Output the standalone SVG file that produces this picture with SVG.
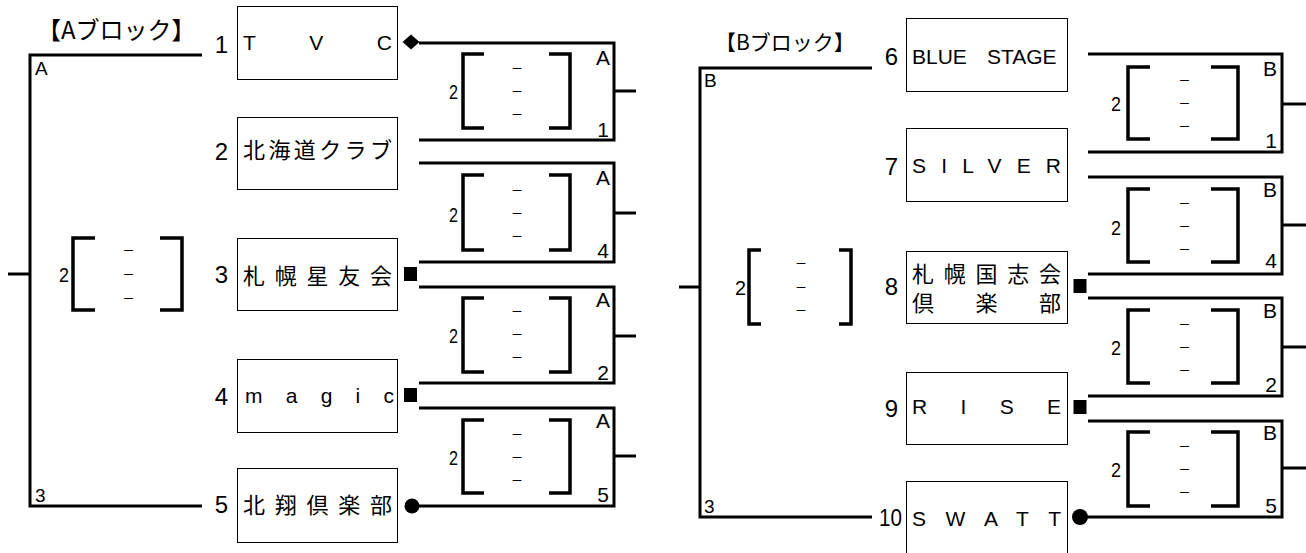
<svg xmlns="http://www.w3.org/2000/svg" width="1306" height="553" viewBox="0 0 1306 553">
<style>
.ln{fill:none;stroke:#000;stroke-width:3;stroke-linejoin:miter}
.br{fill:none;stroke:#000;stroke-width:3.5}
.box{fill:#fff;stroke:#000;stroke-width:1}
.num{font-family:"Liberation Sans",sans-serif;font-size:24px;text-anchor:end;fill:#000}
.jp{font-family:"Noto Sans CJK JP",sans-serif;font-size:22px;dominant-baseline:central;fill:#000}
.en{font-family:"Liberation Sans","Noto Sans CJK JP",sans-serif;font-size:21px;dominant-baseline:central;fill:#000}
.ttl{font-family:"Noto Sans CJK JP",sans-serif;dominant-baseline:central;fill:#000}
.ml{font-family:"Liberation Sans",sans-serif;font-size:21px;text-anchor:end;fill:#000}
.cl{font-family:"Liberation Sans",sans-serif;font-size:19px;fill:#000}
.sc{font-family:"Liberation Sans",sans-serif;font-size:21px;text-anchor:end;dominant-baseline:central;fill:#000}
.ds{font-family:"Noto Sans CJK JP",sans-serif;font-size:14px;text-anchor:middle;dominant-baseline:central;fill:#000}
.mk{fill:#000}
</style>
<defs>
<rect id="sq" x="-6.5" y="-7" width="13" height="14"/>
<path id="dm" d="M0,-7.5 L8.5,0 L0,7.5 L-8.5,0 Z"/>
</defs>

<g id="titles">
<text class="ttl" x="37" y="28.5" font-size="24">【Aブロック】</text>
<text class="ttl" x="715" y="41" font-size="21">【Bブロック】</text>
</g>

<g id="connectors">
<!-- Block A outer -->
<path class="ln" d="M202,55 H30 V506 H202"/>
<path class="ln" d="M8,274 H30"/>
<!-- A matches -->
<path class="ln" d="M419,43 H614 V140 H419"/><path class="ln" d="M614,91 H636"/>
<path class="ln" d="M419,163 H614 V262 H419"/><path class="ln" d="M614,213 H636"/>
<path class="ln" d="M419,287 H614 V383 H419"/><path class="ln" d="M614,336 H636"/>
<path class="ln" d="M419,408 H614 V506 H412"/><path class="ln" d="M614,456 H636"/>
<!-- Block B outer -->
<path class="ln" d="M872,68 H700 V517 H872"/>
<path class="ln" d="M679,287 H700"/>
<!-- B matches -->
<path class="ln" d="M1088,54 H1282 V152 H1088"/><path class="ln" d="M1282,104 H1306"/>
<path class="ln" d="M1088,177 H1282 V274 H1088"/><path class="ln" d="M1282,225 H1306"/>
<path class="ln" d="M1088,298 H1282 V396 H1088"/><path class="ln" d="M1282,347 H1306"/>
<path class="ln" d="M1088,421 H1282 V517 H1080"/><path class="ln" d="M1282,468 H1306"/>
<!-- end marks -->
<use href="#dm" class="mk" x="411" y="42"/>
<use href="#sq" class="mk" x="410.5" y="274"/>
<use href="#sq" class="mk" x="410.5" y="395"/>
<circle class="mk" cx="412" cy="506" r="7.5"/>
<use href="#sq" class="mk" x="1080" y="286"/>
<use href="#sq" class="mk" x="1080" y="407"/>
<circle class="mk" cx="1080" cy="517" r="8"/>
</g>

<!-- outer block labels -->
<g id="block-A-final">
<text class="cl" x="35" y="75">A</text>
<text class="cl" x="35" y="502">3</text>
<text class="sc" x="69" y="274" textLength="10" lengthAdjust="spacingAndGlyphs">2</text>
<path class="br" d="M95,238 H73 V310 H95 M160,238 H182 V310 H160"/>
<text class="ds" x="128.5" y="249" textLength="12" lengthAdjust="spacingAndGlyphs">－</text><text class="ds" x="128.5" y="273" textLength="12" lengthAdjust="spacingAndGlyphs">－</text><text class="ds" x="128.5" y="297" textLength="12" lengthAdjust="spacingAndGlyphs">－</text>
</g>
<g id="block-B-final">
<text class="cl" x="704" y="87">B</text>
<text class="cl" x="704" y="513">3</text>
<text class="sc" x="746" y="287" textLength="11" lengthAdjust="spacingAndGlyphs">2</text>
<path class="br" d="M761,250 H749 V324 H761 M839,250 H851 V324 H839"/>
<text class="ds" x="801" y="262" textLength="12" lengthAdjust="spacingAndGlyphs">－</text><text class="ds" x="801" y="286" textLength="12" lengthAdjust="spacingAndGlyphs">－</text><text class="ds" x="801" y="309" textLength="12" lengthAdjust="spacingAndGlyphs">－</text>
</g>

<!-- A teams -->
<g id="team-1">
<text class="num" x="228" y="53">1</text>
<rect class="box" x="237.5" y="6.5" width="160" height="73"/>
<text class="en" x="243" y="42.5" textLength="149" lengthAdjust="spacing">T V C</text>
</g>
<g id="team-2">
<text class="num" x="228" y="160">2</text>
<rect class="box" x="237.5" y="117.5" width="160" height="72"/>
<text class="jp" x="243" y="148" textLength="149" lengthAdjust="spacing">北海道クラブ</text>
</g>
<g id="team-3">
<text class="num" x="228" y="283">3</text>
<rect class="box" x="237.5" y="238.5" width="160" height="72"/>
<text class="jp" x="243" y="274" textLength="149" lengthAdjust="spacing">札幌星友会</text>
</g>
<g id="team-4">
<text class="num" x="228" y="405">4</text>
<rect class="box" x="237.5" y="359.5" width="160" height="73"/>
<text x="245" y="403" font-family="Liberation Sans, sans-serif" font-size="21" textLength="149" lengthAdjust="spacing">magic</text>
</g>
<g id="team-5">
<text class="num" x="228" y="513">5</text>
<rect class="box" x="237.5" y="468.5" width="160" height="74"/>
<text class="jp" x="243" y="503" textLength="149" lengthAdjust="spacing">北翔倶楽部</text>
</g>

<!-- B teams -->
<g id="team-6">
<text class="num" x="898" y="65">6</text>
<rect class="box" x="906.5" y="18.5" width="161" height="73"/>
<text class="en" x="912" y="56" font-size="22">BLUE <tspan x="987">STAGE</tspan></text>
</g>
<g id="team-7">
<text class="num" x="898" y="175">7</text>
<rect class="box" x="906.5" y="128.5" width="161" height="73"/>
<text class="en" x="912" y="165" textLength="149" lengthAdjust="spacing">SILVER</text>
</g>
<g id="team-8">
<text class="num" x="898" y="295">8</text>
<rect class="box" x="906.5" y="251.5" width="161" height="72"/>
<text class="jp" x="912" y="271.5" font-size="20" textLength="149" lengthAdjust="spacing">札幌国志会</text>
<text class="jp" x="912" y="301" font-size="20" textLength="149" lengthAdjust="spacing">倶　楽　部</text>
</g>
<g id="team-9">
<text class="num" x="898" y="417">9</text>
<rect class="box" x="906.5" y="372.5" width="161" height="72"/>
<text class="en" x="912" y="406.5" textLength="149" lengthAdjust="spacing">RISE</text>
</g>
<g id="team-10">
<text class="num" x="902" y="526" font-size="22" textLength="23" lengthAdjust="spacingAndGlyphs">10</text>
<rect class="box" x="906.5" y="481.5" width="161" height="80"/>
<text class="en" x="912" y="518" textLength="149" lengthAdjust="spacing">SWATT</text>
</g>

<!-- A matches -->
<g id="match-A1">
<text class="sc" x="458" y="91" textLength="9" lengthAdjust="spacingAndGlyphs">2</text>
<path class="br" d="M484,54 H463 V128 H484 M549,54 H570 V128 H549"/>
<text class="ds" x="517" y="67" textLength="12" lengthAdjust="spacingAndGlyphs">－</text><text class="ds" x="517" y="90" textLength="12" lengthAdjust="spacingAndGlyphs">－</text><text class="ds" x="517" y="113" textLength="12" lengthAdjust="spacingAndGlyphs">－</text>
<text class="ml" x="610" y="65">A</text><text class="ml" x="609" y="137">1</text>
</g>
<g id="match-A4">
<text class="sc" x="458" y="214" textLength="9" lengthAdjust="spacingAndGlyphs">2</text>
<path class="br" d="M484,175 H463 V250 H484 M549,175 H570 V250 H549"/>
<text class="ds" x="517" y="189" textLength="12" lengthAdjust="spacingAndGlyphs">－</text><text class="ds" x="517" y="212" textLength="12" lengthAdjust="spacingAndGlyphs">－</text><text class="ds" x="517" y="235" textLength="12" lengthAdjust="spacingAndGlyphs">－</text>
<text class="ml" x="610" y="185">A</text><text class="ml" x="609" y="258">4</text>
</g>
<g id="match-A2">
<text class="sc" x="458" y="335" textLength="9" lengthAdjust="spacingAndGlyphs">2</text>
<path class="br" d="M484,298 H463 V372 H484 M549,298 H570 V372 H549"/>
<text class="ds" x="517" y="310" textLength="12" lengthAdjust="spacingAndGlyphs">－</text><text class="ds" x="517" y="333" textLength="12" lengthAdjust="spacingAndGlyphs">－</text><text class="ds" x="517" y="356" textLength="12" lengthAdjust="spacingAndGlyphs">－</text>
<text class="ml" x="610" y="307">A</text><text class="ml" x="609" y="380">2</text>
</g>
<g id="match-A5">
<text class="sc" x="458" y="457" textLength="9" lengthAdjust="spacingAndGlyphs">2</text>
<path class="br" d="M484,420 H463 V493 H484 M549,420 H570 V493 H549"/>
<text class="ds" x="517" y="433" textLength="12" lengthAdjust="spacingAndGlyphs">－</text><text class="ds" x="517" y="456" textLength="12" lengthAdjust="spacingAndGlyphs">－</text><text class="ds" x="517" y="479" textLength="12" lengthAdjust="spacingAndGlyphs">－</text>
<text class="ml" x="610" y="428">A</text><text class="ml" x="609" y="502">5</text>
</g>

<!-- B matches -->
<g id="match-B1">
<text class="sc" x="1121" y="103" textLength="10" lengthAdjust="spacingAndGlyphs">2</text>
<path class="br" d="M1150,67 H1128 V139 H1150 M1211,67 H1238 V139 H1211"/>
<text class="ds" x="1184.5" y="79" textLength="12" lengthAdjust="spacingAndGlyphs">－</text><text class="ds" x="1184.5" y="102" textLength="12" lengthAdjust="spacingAndGlyphs">－</text><text class="ds" x="1184.5" y="125" textLength="12" lengthAdjust="spacingAndGlyphs">－</text>
<text class="ml" x="1277" y="76">B</text><text class="ml" x="1277" y="148">1</text>
</g>
<g id="match-B4">
<text class="sc" x="1121" y="227" textLength="10" lengthAdjust="spacingAndGlyphs">2</text>
<path class="br" d="M1150,189 H1128 V262 H1150 M1211,189 H1238 V262 H1211"/>
<text class="ds" x="1184.5" y="202" textLength="12" lengthAdjust="spacingAndGlyphs">－</text><text class="ds" x="1184.5" y="225" textLength="12" lengthAdjust="spacingAndGlyphs">－</text><text class="ds" x="1184.5" y="248" textLength="12" lengthAdjust="spacingAndGlyphs">－</text>
<text class="ml" x="1277" y="197">B</text><text class="ml" x="1277" y="268">4</text>
</g>
<g id="match-B2">
<text class="sc" x="1121" y="347" textLength="10" lengthAdjust="spacingAndGlyphs">2</text>
<path class="br" d="M1150,310 H1128 V383 H1150 M1211,310 H1238 V383 H1211"/>
<text class="ds" x="1184.5" y="323" textLength="12" lengthAdjust="spacingAndGlyphs">－</text><text class="ds" x="1184.5" y="346" textLength="12" lengthAdjust="spacingAndGlyphs">－</text><text class="ds" x="1184.5" y="369" textLength="12" lengthAdjust="spacingAndGlyphs">－</text>
<text class="ml" x="1277" y="318">B</text><text class="ml" x="1277" y="392">2</text>
</g>
<g id="match-B5">
<text class="sc" x="1121" y="469" textLength="10" lengthAdjust="spacingAndGlyphs">2</text>
<path class="br" d="M1150,432 H1128 V506 H1150 M1211,432 H1238 V506 H1211"/>
<text class="ds" x="1184.5" y="445" textLength="12" lengthAdjust="spacingAndGlyphs">－</text><text class="ds" x="1184.5" y="468" textLength="12" lengthAdjust="spacingAndGlyphs">－</text><text class="ds" x="1184.5" y="491" textLength="12" lengthAdjust="spacingAndGlyphs">－</text>
<text class="ml" x="1277" y="440">B</text><text class="ml" x="1277" y="513">5</text>
</g>
</svg>
